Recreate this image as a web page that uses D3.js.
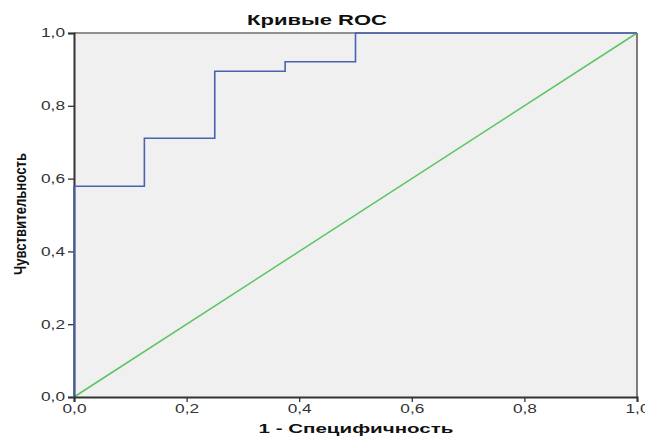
<!DOCTYPE html>
<html>
<head>
<meta charset="utf-8">
<script src="https://cdn.jsdelivr.net/npm/d3@7"></script>
<style>
  html, body { margin: 0; padding: 0; background: #ffffff; }
  svg { display: block; }
  text { font-family: "Liberation Sans", Arial, sans-serif; }
</style>
</head>
<body>
<svg id="chart" width="645" height="437"></svg>
<script>
// ---- data ----
const rocFpr = [0, 0, 0.125, 0.125, 0.25, 0.25, 0.375, 0.375, 0.5, 0.5, 1];
const rocTpr = [0, 0.579, 0.579, 0.711, 0.711, 0.895, 0.895, 0.921, 0.921, 1, 1];
const refFpr = [0, 1];
const refTpr = [0, 1];
const tickValues = [0, 0.2, 0.4, 0.6, 0.8, 1.0];
const titleText = "Кривые ROC";
const xLabel = "1 - Специфичность";
const yLabel = "Чувствительность";

// ---- layout ----
const svg = d3.select("#chart");
const plot = { left: 74, right: 637, top: 33, bottom: 397 };
const x = d3.scaleLinear().domain([0, 1]).range([plot.left, plot.right]);
const y = d3.scaleLinear().domain([0, 1]).range([plot.bottom, plot.top]);
const fmt = d => d3.format(".1f")(d).replace(".", ",");

// background
svg.append("rect")
  .attr("x", plot.left).attr("y", plot.top)
  .attr("width", plot.right - plot.left).attr("height", plot.bottom - plot.top)
  .attr("fill", "#f0f0f0");

// frame top/right
svg.append("line").attr("x1", plot.left).attr("x2", plot.right)
  .attr("y1", plot.top).attr("y2", plot.top)
  .attr("stroke", "#6f6f6f").attr("stroke-width", 1.5);
svg.append("line").attr("x1", plot.right).attr("x2", plot.right)
  .attr("y1", plot.top).attr("y2", plot.bottom)
  .attr("stroke", "#555").attr("stroke-width", 1.5);

// reference diagonal
const line = d3.line().x(d => x(d[0])).y(d => y(d[1]));
svg.append("path")
  .datum(refFpr.map((f, i) => [f, refTpr[i]]))
  .attr("d", line)
  .attr("fill", "none").attr("stroke", "#5cc463").attr("stroke-width", 1.5);

// axes
const xAxis = d3.axisBottom(x).tickValues(tickValues).tickFormat(fmt).tickSize(5).tickPadding(2);
const yAxis = d3.axisLeft(y).tickValues(tickValues).tickFormat(fmt).tickSize(6).tickPadding(3);

const gx = svg.append("g").attr("transform", `translate(0,${plot.bottom})`).call(xAxis);
const gy = svg.append("g").attr("transform", `translate(${plot.left},0)`).call(yAxis);
[gx, gy].forEach(g => {
  g.select(".domain").attr("stroke", "#333").attr("stroke-width", 2);
  g.selectAll(".tick line").attr("stroke", "#333").attr("stroke-width", 1.3);
  g.selectAll(".tick text").attr("fill", "#333").style("font-size", "12px")
    .style("font-family", "'Liberation Sans', Arial, sans-serif")
    .attr("textLength", 24).attr("lengthAdjust", "spacingAndGlyphs");
});

// ROC curve
svg.append("path")
  .datum(rocFpr.map((f, i) => [f, rocTpr[i]]))
  .attr("d", line)
  .attr("fill", "none").attr("stroke", "#4a62b4").attr("stroke-width", 1.6);

// title
svg.append("text")
  .attr("x", 317).attr("y", 25)
  .attr("text-anchor", "middle")
  .attr("font-weight", "bold").style("font-size", "15px")
  .attr("textLength", 140).attr("lengthAdjust", "spacingAndGlyphs")
  .attr("fill", "#111")
  .text(titleText);

// x label
svg.append("text")
  .attr("x", 356).attr("y", 433)
  .attr("text-anchor", "middle")
  .attr("font-weight", "bold").style("font-size", "13px")
  .attr("textLength", 195).attr("lengthAdjust", "spacingAndGlyphs")
  .attr("fill", "#111")
  .text(xLabel);

// y label
svg.append("text")
  .attr("transform", "translate(26,214) rotate(-90)")
  .attr("text-anchor", "middle")
  .attr("font-weight", "bold").style("font-size", "17px")
  .attr("textLength", 122).attr("lengthAdjust", "spacingAndGlyphs")
  .attr("fill", "#111")
  .text(yLabel);
</script>
</body>
</html>
